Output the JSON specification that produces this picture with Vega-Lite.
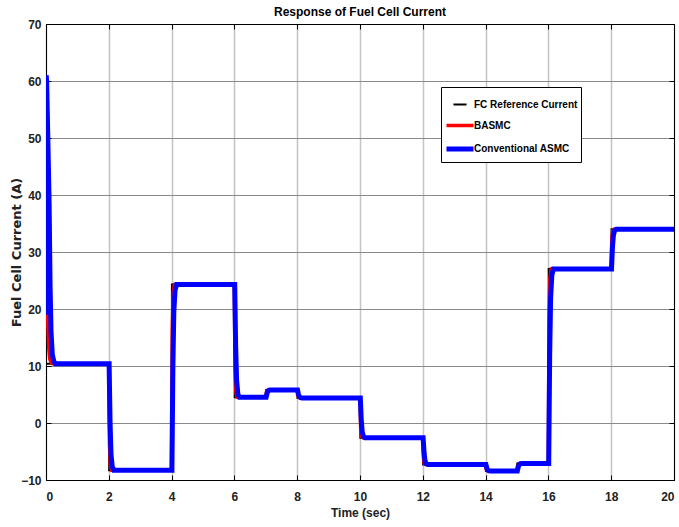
{
  "$schema": "https://vega.github.io/schema/vega-lite/v6.json",
  "width": 628,
  "height": 456,
  "autosize": {"type": "none"},
  "padding": {"left": 46, "top": 24, "right": 5, "bottom": 47},
  "background": "white",
  "title": {"text": "Response of Fuel Cell Current", "fontSize": 12, "fontWeight": "bold", "font": "Liberation Sans Narrow, Liberation Sans, sans-serif", "anchor": "middle", "offset": -1, "color": "black"},
  "config": {
    "view": {"stroke": "black", "strokeWidth": 1},
    "axis": {"labelFont": "Liberation Sans Narrow, Liberation Sans, sans-serif", "labelFontWeight": "bold", "labelFontSize": 12, "labelColor": "#222", "titleFont": "Liberation Sans Narrow, Liberation Sans, sans-serif", "titleFontWeight": "bold", "titleFontSize": 12, "titleColor": "#222", "domainColor": "black", "tickColor": "black", "tickSize": -5, "labelPadding": 10}
  },
  "data": {"values": [
    {"t": 0, "v": 10.4, "s": "FC Reference Current"},
    {"t": 2.009, "v": 10.4, "s": "FC Reference Current"},
    {"t": 2.01, "v": -8.3, "s": "FC Reference Current"},
    {"t": 4.009, "v": -8.3, "s": "FC Reference Current"},
    {"t": 4.01, "v": 24.3, "s": "FC Reference Current"},
    {"t": 6.009, "v": 24.3, "s": "FC Reference Current"},
    {"t": 6.01, "v": 4.5, "s": "FC Reference Current"},
    {"t": 7.009, "v": 4.5, "s": "FC Reference Current"},
    {"t": 7.01, "v": 5.8, "s": "FC Reference Current"},
    {"t": 8.009, "v": 5.8, "s": "FC Reference Current"},
    {"t": 8.01, "v": 4.4, "s": "FC Reference Current"},
    {"t": 10.009, "v": 4.4, "s": "FC Reference Current"},
    {"t": 10.01, "v": -2.6, "s": "FC Reference Current"},
    {"t": 12.009, "v": -2.6, "s": "FC Reference Current"},
    {"t": 12.01, "v": -7.3, "s": "FC Reference Current"},
    {"t": 14.009, "v": -7.3, "s": "FC Reference Current"},
    {"t": 14.01, "v": -8.4, "s": "FC Reference Current"},
    {"t": 15.009, "v": -8.4, "s": "FC Reference Current"},
    {"t": 15.01, "v": -7.1, "s": "FC Reference Current"},
    {"t": 16.009, "v": -7.1, "s": "FC Reference Current"},
    {"t": 16.01, "v": 27.0, "s": "FC Reference Current"},
    {"t": 18.009, "v": 27.0, "s": "FC Reference Current"},
    {"t": 18.01, "v": 34.0, "s": "FC Reference Current"},
    {"t": 20, "v": 34.0, "s": "FC Reference Current"},

    {"t": 0, "v": 46, "s": "BASMC"},
    {"t": 0.02, "v": 35, "s": "BASMC"},
    {"t": 0.04, "v": 25, "s": "BASMC"},
    {"t": 0.06, "v": 17, "s": "BASMC"},
    {"t": 0.09, "v": 13, "s": "BASMC"},
    {"t": 0.12, "v": 11.2, "s": "BASMC"},
    {"t": 0.16, "v": 10.6, "s": "BASMC"},
    {"t": 0.2, "v": 10.4, "s": "BASMC"},
    {"t": 2, "v": 10.4, "s": "BASMC"},
    {"t": 2.02, "v": -3.6, "s": "BASMC"},
    {"t": 2.05, "v": -7.6, "s": "BASMC"},
    {"t": 2.09, "v": -8.3, "s": "BASMC"},
    {"t": 4, "v": -8.3, "s": "BASMC"},
    {"t": 4.02, "v": 16.2, "s": "BASMC"},
    {"t": 4.05, "v": 23.0, "s": "BASMC"},
    {"t": 4.09, "v": 24.3, "s": "BASMC"},
    {"t": 6, "v": 24.3, "s": "BASMC"},
    {"t": 6.02, "v": 9.5, "s": "BASMC"},
    {"t": 6.05, "v": 5.3, "s": "BASMC"},
    {"t": 6.09, "v": 4.5, "s": "BASMC"},
    {"t": 7, "v": 4.5, "s": "BASMC"},
    {"t": 7.02, "v": 5.5, "s": "BASMC"},
    {"t": 7.05, "v": 5.75, "s": "BASMC"},
    {"t": 7.09, "v": 5.8, "s": "BASMC"},
    {"t": 8, "v": 5.8, "s": "BASMC"},
    {"t": 8.02, "v": 4.75, "s": "BASMC"},
    {"t": 8.05, "v": 4.46, "s": "BASMC"},
    {"t": 8.09, "v": 4.4, "s": "BASMC"},
    {"t": 10, "v": 4.4, "s": "BASMC"},
    {"t": 10.02, "v": -0.85, "s": "BASMC"},
    {"t": 10.05, "v": -2.32, "s": "BASMC"},
    {"t": 10.09, "v": -2.6, "s": "BASMC"},
    {"t": 12, "v": -2.6, "s": "BASMC"},
    {"t": 12.02, "v": -6.13, "s": "BASMC"},
    {"t": 12.05, "v": -7.11, "s": "BASMC"},
    {"t": 12.09, "v": -7.3, "s": "BASMC"},
    {"t": 14, "v": -7.3, "s": "BASMC"},
    {"t": 14.02, "v": -8.13, "s": "BASMC"},
    {"t": 14.05, "v": -8.36, "s": "BASMC"},
    {"t": 14.09, "v": -8.4, "s": "BASMC"},
    {"t": 15, "v": -8.4, "s": "BASMC"},
    {"t": 15.02, "v": -7.43, "s": "BASMC"},
    {"t": 15.05, "v": -7.15, "s": "BASMC"},
    {"t": 15.09, "v": -7.1, "s": "BASMC"},
    {"t": 16, "v": -7.1, "s": "BASMC"},
    {"t": 16.02, "v": 18.5, "s": "BASMC"},
    {"t": 16.05, "v": 25.6, "s": "BASMC"},
    {"t": 16.09, "v": 27.0, "s": "BASMC"},
    {"t": 18, "v": 27.0, "s": "BASMC"},
    {"t": 18.02, "v": 32.25, "s": "BASMC"},
    {"t": 18.05, "v": 33.72, "s": "BASMC"},
    {"t": 18.09, "v": 34.0, "s": "BASMC"},
    {"t": 20, "v": 34.0, "s": "BASMC"},

    {"t": 0, "v": 19, "s": "Conventional ASMC"},
    {"t": 0.005, "v": 61, "s": "Conventional ASMC"},
    {"t": 0.02, "v": 60, "s": "Conventional ASMC"},
    {"t": 0.05, "v": 52, "s": "Conventional ASMC"},
    {"t": 0.08, "v": 44, "s": "Conventional ASMC"},
    {"t": 0.1, "v": 38, "s": "Conventional ASMC"},
    {"t": 0.13, "v": 24, "s": "Conventional ASMC"},
    {"t": 0.16, "v": 16, "s": "Conventional ASMC"},
    {"t": 0.2, "v": 12, "s": "Conventional ASMC"},
    {"t": 0.25, "v": 10.8, "s": "Conventional ASMC"},
    {"t": 0.3, "v": 10.4, "s": "Conventional ASMC"},
    {"t": 2.01, "v": 10.4, "s": "Conventional ASMC"},
    {"t": 2.04, "v": 0.1, "s": "Conventional ASMC"},
    {"t": 2.07, "v": -5.5, "s": "Conventional ASMC"},
    {"t": 2.11, "v": -7.7, "s": "Conventional ASMC"},
    {"t": 2.16, "v": -8.3, "s": "Conventional ASMC"},
    {"t": 4.01, "v": -8.3, "s": "Conventional ASMC"},
    {"t": 4.04, "v": 9.6, "s": "Conventional ASMC"},
    {"t": 4.07, "v": 19.4, "s": "Conventional ASMC"},
    {"t": 4.11, "v": 23.3, "s": "Conventional ASMC"},
    {"t": 4.16, "v": 24.3, "s": "Conventional ASMC"},
    {"t": 6.01, "v": 24.3, "s": "Conventional ASMC"},
    {"t": 6.04, "v": 13.4, "s": "Conventional ASMC"},
    {"t": 6.07, "v": 7.5, "s": "Conventional ASMC"},
    {"t": 6.11, "v": 5.1, "s": "Conventional ASMC"},
    {"t": 6.16, "v": 4.5, "s": "Conventional ASMC"},
    {"t": 7.01, "v": 4.5, "s": "Conventional ASMC"},
    {"t": 7.04, "v": 5.2, "s": "Conventional ASMC"},
    {"t": 7.07, "v": 5.6, "s": "Conventional ASMC"},
    {"t": 7.11, "v": 5.76, "s": "Conventional ASMC"},
    {"t": 7.16, "v": 5.8, "s": "Conventional ASMC"},
    {"t": 8.01, "v": 5.8, "s": "Conventional ASMC"},
    {"t": 8.04, "v": 5.03, "s": "Conventional ASMC"},
    {"t": 8.07, "v": 4.61, "s": "Conventional ASMC"},
    {"t": 8.11, "v": 4.44, "s": "Conventional ASMC"},
    {"t": 8.16, "v": 4.4, "s": "Conventional ASMC"},
    {"t": 10.01, "v": 4.4, "s": "Conventional ASMC"},
    {"t": 10.04, "v": 0.55, "s": "Conventional ASMC"},
    {"t": 10.07, "v": -1.55, "s": "Conventional ASMC"},
    {"t": 10.11, "v": -2.39, "s": "Conventional ASMC"},
    {"t": 10.16, "v": -2.6, "s": "Conventional ASMC"},
    {"t": 12.01, "v": -2.6, "s": "Conventional ASMC"},
    {"t": 12.04, "v": -5.19, "s": "Conventional ASMC"},
    {"t": 12.07, "v": -6.6, "s": "Conventional ASMC"},
    {"t": 12.11, "v": -7.16, "s": "Conventional ASMC"},
    {"t": 12.16, "v": -7.3, "s": "Conventional ASMC"},
    {"t": 14.01, "v": -7.3, "s": "Conventional ASMC"},
    {"t": 14.04, "v": -7.9, "s": "Conventional ASMC"},
    {"t": 14.07, "v": -8.24, "s": "Conventional ASMC"},
    {"t": 14.11, "v": -8.37, "s": "Conventional ASMC"},
    {"t": 14.16, "v": -8.4, "s": "Conventional ASMC"},
    {"t": 15.01, "v": -8.4, "s": "Conventional ASMC"},
    {"t": 15.04, "v": -7.69, "s": "Conventional ASMC"},
    {"t": 15.07, "v": -7.3, "s": "Conventional ASMC"},
    {"t": 15.11, "v": -7.14, "s": "Conventional ASMC"},
    {"t": 15.16, "v": -7.1, "s": "Conventional ASMC"},
    {"t": 16.01, "v": -7.1, "s": "Conventional ASMC"},
    {"t": 16.04, "v": 11.7, "s": "Conventional ASMC"},
    {"t": 16.07, "v": 21.9, "s": "Conventional ASMC"},
    {"t": 16.11, "v": 26.0, "s": "Conventional ASMC"},
    {"t": 16.16, "v": 27.0, "s": "Conventional ASMC"},
    {"t": 18.01, "v": 27.0, "s": "Conventional ASMC"},
    {"t": 18.04, "v": 30.85, "s": "Conventional ASMC"},
    {"t": 18.07, "v": 32.95, "s": "Conventional ASMC"},
    {"t": 18.11, "v": 33.79, "s": "Conventional ASMC"},
    {"t": 18.16, "v": 34.0, "s": "Conventional ASMC"},
    {"t": 20, "v": 34.0, "s": "Conventional ASMC"}
  ]},
  "layer": [
    {
      "mark": {"type": "line", "clip": true, "strokeJoin": "miter"},
      "encoding": {
        "x": {"field": "t", "type": "quantitative", "scale": {"domain": [0, 20], "nice": false}, "axis": {"title": "Time (sec)", "values": [0, 2, 4, 6, 8, 10, 12, 14, 16, 18, 20], "gridColor": "#c4c4c4", "gridWidth": 1.5, "gridOpacity": 1, "labelPadding": 16, "titlePadding": 5}},
        "y": {"field": "v", "type": "quantitative", "scale": {"domain": [-10, 70], "nice": false}, "axis": {"title": "Fuel Cell Current (A)", "values": [-10, 0, 10, 20, 30, 40, 50, 60, 70], "gridColor": "#8a8a8a", "gridWidth": 1.2, "gridOpacity": 1, "titleFont": "DejaVu Sans, sans-serif", "titleFontSize": 13, "titlePadding": -3}},
        "strokeWidth": {"field": "s", "type": "nominal", "scale": {"domain": ["FC Reference Current", "BASMC", "Conventional ASMC"], "range": [2, 5, 5]}, "legend": null},
        "color": {"field": "s", "type": "nominal", "sort": ["FC Reference Current", "BASMC", "Conventional ASMC"], "scale": {"domain": ["FC Reference Current", "BASMC", "Conventional ASMC"], "range": ["black", "#ff0000", "#0000ff"]}, "legend": {"title": null, "orient": "none", "legendX": 395, "legendY": 63, "symbolType": "stroke", "symbolStrokeWidth": 5, "symbolSize": 361, "labelFont": "Liberation Sans Narrow, Liberation Sans, sans-serif", "labelFontWeight": "bold", "labelFontSize": 10, "labelColor": "black", "labelOffset": -2, "rowPadding": 0, "strokeColor": "black", "fillColor": "white", "padding": 3, "encode": {"symbols": {"update": {"size": {"signal": "datum.value === 'FC Reference Current' ? 170 : 729"}}}}}}
      }
    },
    {
      "mark": {"type": "line", "opacity": 0},
      "encoding": {
        "x": {"field": "t", "type": "quantitative", "scale": {"domain": [0, 20], "nice": false}, "axis": {"orient": "top", "title": null, "labels": false, "grid": false, "values": [0, 2, 4, 6, 8, 10, 12, 14, 16, 18, 20]}},
        "y": {"field": "v", "type": "quantitative", "scale": {"domain": [-10, 70], "nice": false}, "axis": {"orient": "right", "title": null, "labels": false, "grid": false, "values": [-10, 0, 10, 20, 30, 40, 50, 60, 70]}}
      }
    }
  ],
  "resolve": {"scale": {"x": "independent", "y": "independent"}, "axis": {"x": "independent", "y": "independent"}}
}
